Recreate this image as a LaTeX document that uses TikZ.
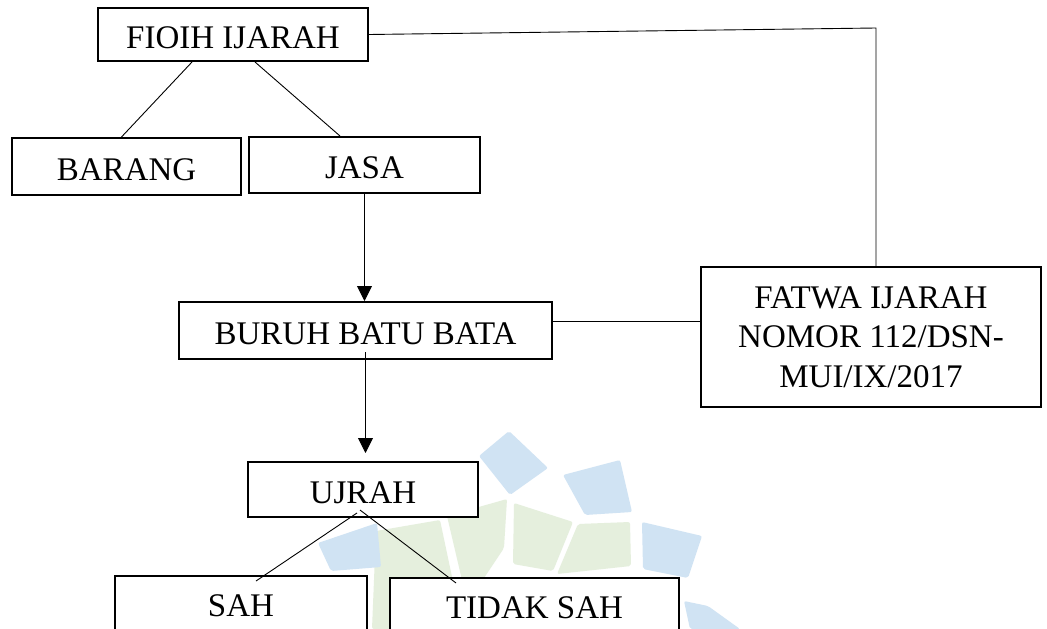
\documentclass[tikz,border=0pt]{standalone}
\usepackage{fontspec}
\setmainfont{Liberation Serif}
\usetikzlibrary{arrows.meta}
\definecolor{wblue}{RGB}{208,227,243}
\definecolor{wgreen}{RGB}{229,239,221}
\tikzset{
  box/.style={draw=black, line width=2pt, fill=white, inner sep=0pt,
    font=\fontsize{33}{39.5}\selectfont, text height=27pt, text depth=0pt},
  conn/.style={draw=black, line width=0.9pt},
  arr/.style={conn, -{Triangle[width=15pt,length=15pt]}},
  wb/.style={fill=wblue, rounded corners=2pt},
  wg/.style={fill=wgreen, rounded corners=2pt}
}
\begin{document}
\begin{tikzpicture}[x=1pt,y=-1pt]
\useasboundingbox (0,0) rectangle (1047,629);
\clip (0,0) rectangle (1047,629);
\fill[white] (0,0) rectangle (1047,629);
% faint watermark (background logo)
\fill[wg] (376,531) -- (440,520) -- (463,629) -- (372,629) -- cycle;
\fill[wg] (447,516) -- (507,499) -- (504,548) -- (476,590) -- (462,580) -- cycle;
\fill[wg] (514,503) -- (573,522) -- (553,571) -- (513,564) -- cycle;
\fill[wg] (578,524) -- (630,522) -- (631,566) -- (557,574) -- cycle;
\fill[wb] (479,456) -- (509,431) -- (548,468) -- (510,495) -- cycle;
\fill[wb] (563,475) -- (620,460) -- (632,512) -- (585,515) -- cycle;
\fill[wb] (642,522) -- (702,536) -- (688,578) -- (643,569) -- cycle;
\fill[wb] (684,601) -- (708,606) -- (740,629) -- (690,629) -- cycle;
\fill[wb] (318,543) -- (377,523) -- (381,567) -- (331,571) -- cycle;
% boxes
\node[box, minimum width=270, minimum height=53] (fioih) at (233,34.5) {FIOIH IJARAH};
\node[box, minimum width=229, minimum height=57] (barang) at (126.5,166.5) {BARANG};
\node[box, minimum width=231, minimum height=56] (jasa) at (364.5,165) {JASA};
\node[box, minimum width=373, minimum height=57] (buruh) at (365.5,330.5) {BURUH BATU BATA};
\node[box, minimum width=340, minimum height=140, align=center, text height=, text depth=] (fatwa) at (871,337) {FATWA IJARAH\\NOMOR 112/DSN-\\MUI/IX/2017};
\node[box, minimum width=230, minimum height=55] (ujrah) at (363,489.5) {UJRAH};
\node[box, minimum width=252, minimum height=80, text height=21pt, text depth=20pt] (sah) at (241,616) {SAH};
\node[box, minimum width=289, minimum height=80, text height=21pt, text depth=20pt] (tidak) at (534.5,617.5) {TIDAK SAH};
% connectors
\coordinate (bend) at (876,28);
\draw[conn] (fioih.east) -- (bend) -- (bend |- fatwa.north);
\draw[conn] ([xshift=-41pt]fioih.south) -- ([xshift=-5pt]barang.north);
\draw[conn] ([xshift=22pt]fioih.south) -- ([xshift=-24.5pt]jasa.north);
\draw[arr] (jasa.south) -- (jasa.south |- buruh.north);
\draw[conn] ([yshift=9pt]buruh.east) -- ([yshift=9pt]buruh.east -| fatwa.west);
\draw[arr] ([yshift=8pt]buruh.south) -- ([yshift=8pt]buruh.south |- ujrah.north);
\draw[conn] ([xshift=-6pt,yshift=5pt]ujrah.south) -- ([xshift=15pt,yshift=-6pt]sah.north);
\draw[conn] ([xshift=-3pt,yshift=8pt]ujrah.south) -- ([xshift=-78.5pt,yshift=-6.5pt]tidak.north);
\end{tikzpicture}
\end{document}
